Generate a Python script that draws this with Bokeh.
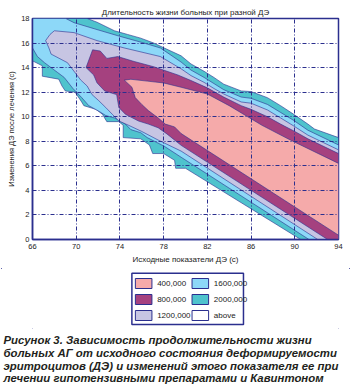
from bokeh.plotting import figure
from bokeh.layouts import column
from bokeh.models import Range1d, FixedTicker, Title
from bokeh.embed import file_html
from bokeh.resources import INLINE
from bokeh.core.properties import value

# ---------------- data ----------------
x_ticks = [66, 70, 74, 78, 82, 86, 90, 94]
y_ticks = [0, 2, 4, 6, 8, 10, 12, 14, 16, 18]
levels = ["400,000", "800,000", "1200,000", "1600,000", "2000,000", "above"]

# 2 000 000 contour (teal band outer edge)
teal_upper_x = [71.0, 71.9, 73.5, 74.7, 75.9, 77.1, 78.05, 79.6, 80.5, 81.7, 82.6, 83.5, 85.1, 86.0, 87.5, 88.7, 89.9, 91.2, 91.8, 94.0]
teal_upper_y = [18.0, 17.7, 17.0, 16.7, 16.4, 16.0, 15.6, 14.96, 14.3, 13.7, 13.2, 12.65, 12.1, 12.05, 11.55, 10.9, 10.2, 9.4, 9.0, 8.3]
teal_lower_x = [66.0, 66.9, 66.9, 68.4, 68.7, 69.0, 69.9, 70.5, 70.7, 71.8, 72.4, 72.8, 73.9, 74.3, 74.3, 75.9, 76.7, 77.0, 78.0, 79.0, 79.1, 80.0, 90.55]
teal_lower_y = [14.55, 14.15, 13.3, 13.06, 12.5, 12.1, 12.0, 11.2, 10.9, 10.6, 10.2, 9.6, 9.6, 9.3, 8.3, 8.2, 7.7, 7.0, 7.0, 6.45, 5.8, 5.8, 0.0]

# 1 600 000 contour
lb_upper_x = [69.05, 69.8, 71.9, 73.8, 76.2, 77.7, 79.6, 80.5, 81.7, 82.6, 83.5, 85.1, 86.0, 87.5, 88.7, 89.9, 91.2, 94.0]
lb_upper_y = [18.0, 17.66, 17.1, 16.6, 16.0, 15.6, 14.45, 13.8, 13.2, 12.7, 12.2, 11.6, 11.5, 11.0, 10.35, 9.7, 8.9, 7.7]
lb_lower_x = [66.0, 66.45, 67.1, 68.3, 68.9, 69.7, 70.5, 71.15, 72.07, 72.7, 73.5, 74.5, 75.0, 75.9, 76.5, 78.05, 79.6, 91.3]
lb_lower_y = [15.6, 14.9, 14.4, 13.6, 13.2, 12.3, 11.56, 10.9, 10.45, 10.1, 9.9, 9.4, 8.95, 8.7, 8.3, 7.6, 6.7, 0.0]

# 1 200 000 contour
lav_upper_x = [67.2, 67.6, 68.0, 69.8, 71.9, 74.4, 77.7, 79.6, 80.5, 81.7, 82.6, 83.5, 85.1, 86.0, 87.5, 88.7, 89.9, 91.2, 94.0]
lav_upper_y = [16.2, 16.7, 17.0, 16.85, 16.2, 15.6, 14.9, 13.9, 13.35, 12.8, 12.3, 11.85, 11.2, 11.1, 10.55, 9.9, 9.25, 8.5, 7.3]
lav_lower_x = [67.2, 67.5, 67.7, 69.2, 70.4, 71.0, 71.45, 72.07, 72.7, 73.3, 73.9, 74.8, 76.0, 77.5, 79.6, 92.1]
lav_lower_y = [16.2, 15.6, 15.1, 14.4, 13.0, 12.5, 11.8, 11.3, 10.75, 10.2, 9.66, 9.3, 8.8, 8.1, 7.2, 0.0]

# 800 000 contour
pur_upper_x = [70.9, 71.5, 72.2, 72.8, 73.8, 75.3, 77.1, 79.3, 80.5, 82.0, 83.5, 85.1, 86.0, 87.5, 88.7, 90.0, 91.2, 94.0]
pur_upper_y = [14.0, 15.45, 15.35, 14.75, 14.9, 14.5, 14.07, 13.4, 12.95, 12.35, 11.6, 10.9, 10.6, 10.0, 9.4, 8.8, 8.2, 7.0]
pur_lower_x = [70.9, 71.6, 71.9, 72.6, 73.7, 73.9, 74.5, 75.7, 76.6, 77.5, 78.3, 79.6, 93.0]
pur_lower_y = [14.0, 13.4, 12.76, 12.1, 11.8, 10.75, 10.2, 9.65, 9.4, 9.1, 8.6, 7.67, 0.0]

# 400 000 contour
pink_upper_x = [74.4, 75.0, 76.5, 78.0, 79.6, 82.0, 84.0, 87.0, 89.6, 94.0]
pink_upper_y = [12.98, 13.05, 12.9, 12.75, 12.4, 11.85, 10.9, 9.3, 8.1, 6.2]
pink_lower_x = [74.4, 75.1, 75.4, 76.0, 76.6, 77.5, 78.15, 79.0, 79.6, 94.0]
pink_lower_y = [12.98, 12.4, 11.56, 11.0, 10.5, 9.9, 9.4, 9.17, 8.63, 0.35]

caption = [
    "Рисунок 3. Зависимость продолжительности жизни",
    "больных АГ от исходного состояния деформируемости",
    "эритроцитов (ДЭ) и изменений этого показателя ее при",
    "лечении гипотензивными препаратами и Кавинтоном",
]

# ---------------- styles ----------------
NAVY = "#2b2f8e"
C_PINK, C_PUR, C_LAV, C_LB, C_TEAL = "#f5aaaa", "#a5417f", "#c7c5e3", "#8dd8f8", "#4fc3cd"
fills = [C_PINK, C_PUR, C_LAV, C_LB, C_TEAL, "white"]
FONT = "Liberation Sans"
TXT = "#222222"

XMIN, XMAX, YMIN, YMAX = x_ticks[0], x_ticks[-1], y_ticks[0], y_ticks[-1]
W = 351
H_MAIN, H_LEG, H_CAP = 268, 62, 54
FL, FR, FT, FB = 32, 338, 18, 239

# ---------------- main chart ----------------
p = figure(width=W, height=H_MAIN, output_backend="svg", toolbar_location=None,
           x_range=Range1d(XMIN, XMAX), y_range=Range1d(YMIN, YMAX),
           min_border_left=FL, min_border_right=W - FR, min_border_top=FT, min_border_bottom=H_MAIN - FB,
           title="Длительность жизни больных при разной ДЭ")
p.title.align = "center"
p.title.offset = 6
p.title.standoff = 4
p.title.text_font = FONT
p.title.text_font_size = "8px"
p.title.text_font_style = "normal"
p.title.text_color = TXT
p.background_fill_color = "white"
p.border_fill_color = "white"
p.outline_line_color = NAVY
p.outline_line_width = 1.5


def band(ux, uy, lx, ly, lead=None, corner=None):
    xs, ys = [], []
    if lead:
        xs.append(lead[0]); ys.append(lead[1])
    xs += ux; ys += uy
    if corner:
        xs.append(corner[0]); ys.append(corner[1])
    xs += lx[::-1]; ys += ly[::-1]
    return xs, ys


line_kw = dict(line_color=NAVY, line_width=0.8, line_alpha=0.75)
polys = [
    (band(teal_upper_x, teal_upper_y, teal_lower_x, teal_lower_y, (XMIN, YMAX), (XMAX, YMIN)), C_TEAL),
    (band(lb_upper_x, lb_upper_y, lb_lower_x, lb_lower_y, (XMIN, YMAX), (XMAX, YMIN)), C_LB),
    (band(lav_upper_x, lav_upper_y, lav_lower_x[1:], lav_lower_y[1:], None, (XMAX, YMIN)), C_LAV),
    (band(pur_upper_x, pur_upper_y, pur_lower_x[1:], pur_lower_y[1:], None, (XMAX, YMIN)), C_PUR),
    (band(pink_upper_x, pink_upper_y, pink_lower_x[1:], pink_lower_y[1:], None, None), C_PINK),
]
for (xs, ys), col in polys:
    p.patch(xs, ys, fill_color=col, **line_kw)

for ax, ticks in ((p.xaxis, x_ticks), (p.yaxis, y_ticks)):
    ax.ticker = FixedTicker(ticks=ticks)
    ax.axis_line_color = NAVY
    ax.axis_line_width = 1.5
    ax.major_tick_out = 0
    ax.major_tick_in = 0
    ax.minor_tick_line_color = None
    ax.major_label_text_font = FONT
    ax.major_label_text_font_size = "7.5px"
    ax.major_label_text_color = TXT
p.xaxis.major_label_standoff = 4
p.yaxis.major_label_standoff = 3

for g in (p.xgrid, p.ygrid):
    g.grid_line_color = NAVY
    g.grid_line_width = 1
    g.grid_line_dash = "4 2 1 2"
    g.level = "overlay"

p.add_layout(Title(text="Изменения ДЭ после лечения (с)", align="center", offset=28, standoff=6,
                   text_font=FONT, text_font_size="7.5px", text_font_style="normal", text_color=TXT), "left")
p.add_layout(Title(text="Исходные показатели ДЭ (с)", align="center", offset=-23, standoff=2,
                   text_font=FONT, text_font_size="8px", text_font_style="normal", text_color=TXT), "below")


def strip(h):
    f = figure(width=W, height=h, output_backend="svg", toolbar_location=None,
               x_range=Range1d(0, W), y_range=Range1d(h, 0),
               x_axis_location=None, y_axis_location=None,
               min_border_left=0, min_border_right=0, min_border_top=0, min_border_bottom=0)
    f.title.visible = False
    f.outline_line_color = None
    f.xgrid.visible = False
    f.ygrid.visible = False
    f.background_fill_color = "white"
    f.border_fill_color = "white"
    return f


# ---------------- legend strip (layout in pixels of this strip) ----------------
q = strip(H_LEG)
q.quad(left=[114], right=[242], top=[4.7], bottom=[56], fill_color="white",
       line_color=NAVY, line_width=1.5)
sw_left = [118, 118, 118, 183, 183, 183]
sw_mid = [15, 31, 47, 15, 31, 47]
q.quad(left=sw_left, right=[v + 19 for v in sw_left],
       top=[v - 5 for v in sw_mid], bottom=[v + 5 for v in sw_mid],
       fill_color=fills, line_color=NAVY, line_width=1)
q.text(x=[v + 25 for v in sw_left], y=sw_mid, text=levels, text_font=value(FONT),
       text_font_size="8px", text_color=TXT, text_align="left", text_baseline="middle")

# ---------------- caption strip ----------------
c = strip(H_CAP)
c.text(x=[3, 3, 3, 3], y=[9, 22, 35, 47.5], text=caption, text_font=value(FONT),
       text_font_size="11.4px", text_font_style="bold italic", text_color="#231f20",
       text_align="left", text_baseline="alphabetic")

box = column(p, q, spacing=0,
             styles={"outline": "1.5px solid " + NAVY, "outline-offset": "-2px"})
layout = column(box, c, spacing=0)

open("out.html", "w").write(file_html(layout, INLINE))
